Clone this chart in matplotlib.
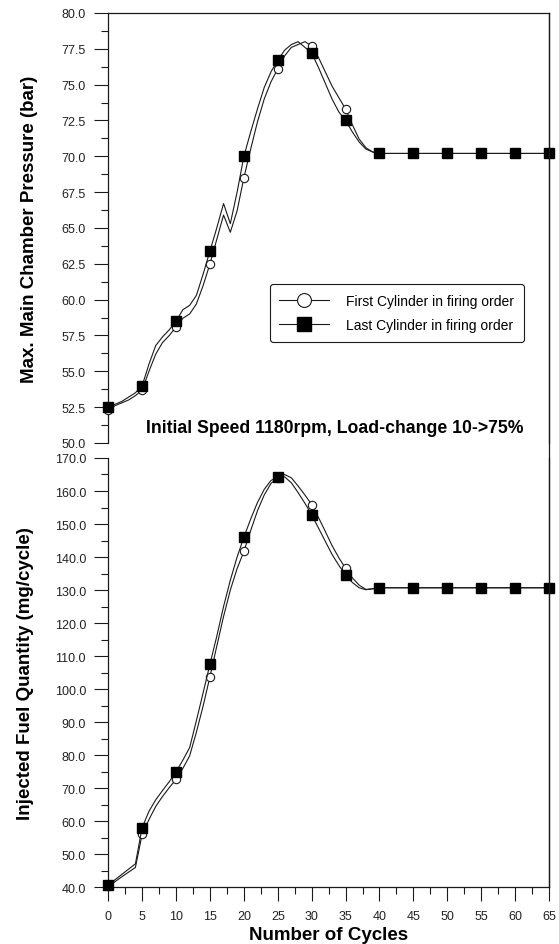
import matplotlib
matplotlib.use('Agg')
from matplotlib import pyplot as plt
from matplotlib.lines import Line2D
from matplotlib.ticker import MultipleLocator, FormatStrFormatter

plt.rcParams['font.family'] = ['Liberation Sans', 'DejaVu Sans']

cycles = list(range(0, 41)) + [45, 50, 55, 60, 65]

# max. main chamber pressure (bar)
p_first = [52.3, 52.6, 52.8, 53.0, 53.3, 53.7, 55.0, 56.2, 57.0, 57.5,
           58.1, 58.7, 59.0, 59.7, 61.0, 62.5, 64.2, 65.9, 64.7, 66.2,
           68.5, 70.5, 72.4, 74.0, 75.2, 76.1, 77.0, 77.6, 77.8, 78.0,
           77.7, 76.9, 75.9, 74.9, 74.1, 73.3, 72.2, 71.2, 70.6, 70.3,
           70.2, 70.2, 70.2, 70.2, 70.2, 70.2]
p_last = [52.5, 52.7, 52.9, 53.2, 53.5, 54.0, 55.5, 56.8, 57.4, 57.9,
          58.5, 59.3, 59.6, 60.3, 61.8, 63.4, 65.0, 66.7, 65.3, 67.5,
          70.0, 71.7, 73.3, 74.8, 75.9, 76.7, 77.4, 77.8, 78.0, 77.6,
          77.2, 76.2, 75.1, 74.0, 73.1, 72.5, 71.7, 71.0, 70.5, 70.3,
          70.2, 70.2, 70.2, 70.2, 70.2, 70.2]

# injected fuel quantity (mg/cycle)
q_first = [40.3, 41.7, 43.2, 44.6, 46.0, 56.1, 60.5, 64.5, 67.5, 70.2,
           72.7, 76.0, 79.8, 87.0, 95.0, 103.8, 113.0, 122.0, 130.0, 136.5,
           141.7, 148.0, 154.0, 158.8, 162.3, 164.0, 165.0, 164.0, 161.5, 158.8,
           155.9, 152.0, 147.8, 143.5, 139.8, 136.6, 133.7, 131.5, 130.2, 130.4,
           130.7, 130.7, 130.7, 130.7, 130.7, 130.7]
q_last = [40.7, 42.3, 43.9, 45.5, 47.1, 58.1, 63.0, 66.5, 69.3, 72.0,
          75.0, 78.5, 82.3, 90.5, 99.0, 107.6, 116.0, 125.0, 133.0, 140.0,
          146.0, 151.5, 156.5, 160.5, 163.2, 164.2, 164.3, 162.5, 159.5, 156.3,
          152.8, 148.8, 144.8, 140.8, 137.5, 134.6, 132.3, 130.7, 130.1, 130.4,
          130.7, 130.7, 130.7, 130.7, 130.7, 130.7]

labels = ['First Cylinder in firing order', 'Last Cylinder in firing order']

marks = [i for i, c in enumerate(cycles) if c % 5 == 0]
ink = '#1a1a1a'


def draw(ax, first, last):
    ax.plot(cycles, first, color=ink, lw=0.8, marker='o', ms=6,
            mfc='white', mec=ink, mew=0.8, markevery=marks, clip_on=False, zorder=3)
    ax.plot(cycles, last, color=ink, lw=0.8, marker='s', ms=7.5,
            mfc='black', mec='black', markevery=marks, clip_on=False, zorder=4)


def style(ax):
    ax.set_xlim(0, 65)
    for s in ax.spines.values():
        s.set_linewidth(0.9)
        s.set_color(ink)
    ax.tick_params(axis='both', which='major', direction='out', length=10,
                   width=0.8, color=ink, labelsize=9, labelcolor='#222222', pad=6)
    ax.tick_params(axis='both', which='minor', direction='out', length=5,
                   width=0.8, color=ink)


fig = plt.figure(figsize=(5.59, 9.45), dpi=100)
ax1 = fig.add_axes([0.1937, 0.5302, 0.7884, 0.455])
ax2 = fig.add_axes([0.1937, 0.0600, 0.7884, 0.4543])

draw(ax1, p_first, p_last)
draw(ax2, q_first, q_last)
style(ax1)
style(ax2)

ax1.set_ylim(50, 80)
ax1.yaxis.set_major_locator(MultipleLocator(2.5))
ax1.yaxis.set_minor_locator(MultipleLocator(1.25))
ax1.yaxis.set_major_formatter(FormatStrFormatter('%.1f'))
ax1.spines['bottom'].set_visible(False)
ax1.set_xticks([])
ax1.tick_params(axis='x', which='both', bottom=False, labelbottom=False)

ax2.set_ylim(40, 170)
ax2.yaxis.set_major_locator(MultipleLocator(10))
ax2.yaxis.set_minor_locator(MultipleLocator(5))
ax2.yaxis.set_major_formatter(FormatStrFormatter('%.1f'))
ax2.xaxis.set_major_locator(MultipleLocator(5))
ax2.xaxis.set_minor_locator(MultipleLocator(2.5))
ax2.spines['top'].set_visible(False)

ax1.set_ylabel('Max. Main Chamber Pressure (bar)', fontsize=13.5, fontweight='bold')
ax1.yaxis.set_label_coords(-0.16, 0.5)
ax2.set_ylabel('Injected Fuel Quantity (mg/cycle)', fontsize=13.5, fontweight='bold')
ax2.yaxis.set_label_coords(-0.169, 0.5)
ax2.set_xlabel('Number of Cycles', fontsize=13.5, fontweight='bold', labelpad=3.5)

ax1.text(0.514, 0.035, 'Initial Speed 1180rpm, Load-change 10->75%',
         transform=ax1.transAxes, ha='center', va='center',
         fontsize=12.7, fontweight='bold')

handles = [
    Line2D([], [], color=ink, lw=0.8, marker='o', ms=10, mfc='white', mec=ink, mew=0.8),
    Line2D([], [], color=ink, lw=0.8, marker='s', ms=10, mfc='black', mec='black'),
]
leg = ax1.legend(handles, labels, loc='upper right', bbox_to_anchor=(0.943, 0.37),
                 borderaxespad=0, fontsize=10, handlelength=3.6, handletextpad=1.2,
                 borderpad=0.7, labelspacing=0.75, fancybox=True, framealpha=1,
                 edgecolor=ink)
leg.get_frame().set_linewidth(0.8)

# right border runs unbroken through both panels
fig.add_artist(Line2D([0.1937 + 0.7884] * 2, [0.0600, 0.9852],
                      transform=fig.transFigure, color=ink, lw=0.9))

fig.savefig('out.png', dpi=100)
